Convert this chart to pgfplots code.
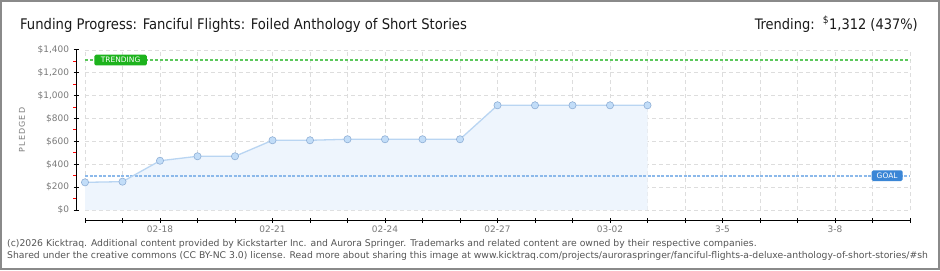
\documentclass[border=0pt]{standalone}
\usepackage{pgfplots}
\usepackage{pgfplotstable}
\pgfplotsset{compat=1.18}
\usepackage{fontspec}
\setmainfont{DejaVu Sans Condensed}
\newfontfamily\smallfont{DejaVu Sans}
\newfontfamily\spacedfont{DejaVu Sans}[LetterSpace=14]
\definecolor{gridc}{HTML}{DDDDDD}
\definecolor{linec}{HTML}{B9D5F2}
\definecolor{fillc}{HTML}{EEF5FD}
\definecolor{markfill}{HTML}{C2DDF8}
\definecolor{markdraw}{HTML}{8FAFD6}
\definecolor{trendc}{HTML}{5CC85C}
\definecolor{trendbox}{HTML}{1DB31D}
\definecolor{goalc}{HTML}{8CB9EA}
\definecolor{goalbox}{HTML}{3A86D6}
\definecolor{labc}{HTML}{7A7A7A}
\definecolor{footc}{HTML}{555555}
\definecolor{titc}{HTML}{1A1A1A}
\definecolor{framec}{HTML}{8A8A8A}

\pgfplotstableread{
day pledged
0 242
1 248
2 431
3 470
4 470
5 610
6 610
7 619
8 619
9 619
10 619
11 916
12 916
13 916
14 916
15 916
}\pledged

\begin{document}
\begin{tikzpicture}[x=1bp,y=1bp]
\path[use as bounding box] (0,0) rectangle (940,270);
\fill[white] (0,0) rectangle (940,270);
\node[anchor=base west, font=\fontsize{14.7}{15}\selectfont, text=titc, inner sep=0] at (20,241)
  {Funding Progress: Fanciful Flights: Foiled Anthology of Short Stories};
\node[anchor=base east, font=\fontsize{14.5}{15}\selectfont, text=titc, inner sep=0] at (918,241)
  {Trending:\ \ \textsuperscript{\$}1,312 (437\%)};
\begin{scope}
\clip (0,0) rectangle (938,270);
\node[anchor=base west, font=\smallfont\fontsize{9.3}{10}\selectfont, text=footc, inner sep=0] at (7,23.5)
  {(c)2026 Kicktraq. Additional content provided by Kickstarter Inc. and Aurora Springer. Trademarks and related content are owned by their respective companies.};
\node[anchor=base west, font=\smallfont\fontsize{9.3}{10}\selectfont, text=footc, inner sep=0] at (7,11.5)
  {Shared under the creative commons (CC BY-NC 3.0) license. Read more about sharing this image at www.kicktraq.com/projects/auroraspringer/fanciful-flights-a-deluxe-anthology-of-short-stories/\#sh};
\end{scope}
\node[rotate=90, font=\spacedfont\fontsize{8}{9}\selectfont, text=labc, inner sep=0] at (22,140) {PLEDGED};
\begin{axis}[
  at={(76bp,50bp)}, anchor=south west,
  scale only axis, width=834bp, height=170bp,
  xmin=-0.24, xmax=22, ymin=-87.5, ymax=1400,
  axis line style={draw=none},
  clip=false,
  /pgf/number format/assume math mode=true,
  xtick={0,...,22},
  xticklabels={,,02-18,,,02-21,,,02-24,,,02-27,,,03-02,,,3-5,,,3-8,,},
  ytick={0,200,...,1400},
  yticklabels={\$0,\$200,\$400,\$600,\$800,{\$1,000},{\$1,200},{\$1,400}},
  minor ytick={100,300,...,1300},
  xtick pos=bottom, ytick pos=left,
  tick align=center,
  major tick length=5bp, minor tick length=3bp,
  every tick/.style={black, line width=1bp},
  minor y tick style={red, line width=1bp, xshift=-1.5bp},
  tick label style={font=\smallfont\fontsize{9}{9}\selectfont, text=labc},
  y tick label style={xshift=-1bp},
]
\pgfplotsinvokeforeach{0,...,22}{
  \draw[gridc, line width=0.8bp, dash pattern=on 4bp off 3bp] (axis cs:#1,0) -- (axis cs:#1,1400);
}
\pgfplotsinvokeforeach{0,200,...,1400}{
  \draw[gridc, line width=0.8bp, dash pattern=on 4bp off 3bp] (axis cs:0,#1) -- (axis cs:22,#1);
}
\draw[black, line width=1bp] (axis cs:-0.24,0) -- (axis cs:-0.24,1400);
\draw[black, line width=1bp] (axis cs:0,-87.5) -- (axis cs:22,-87.5);
\addplot[fill=fillc, draw=none, forget plot] table[x=day, y=pledged] {\pledged} \closedcycle;
\addplot[goalc, line width=2.2bp, dash pattern=on 3bp off 1.5bp] coordinates {(0,300) (22,300)};
\addplot[trendc, line width=2bp, dash pattern=on 3bp off 2bp] coordinates {(0,1312) (22,1312)};
\addplot[linec, line width=1.3bp, mark=*, mark size=3.6bp,
  mark options={fill=markfill, draw=markdraw, line width=0.6bp}] table[x=day, y=pledged] {\pledged};
\node[fill=trendbox, text=white, rounded corners=1.5bp, inner xsep=6.5bp, inner ysep=2.6bp,
  font=\smallfont\fontsize{7.5}{8}\selectfont] at (axis cs:0.95,1312) {TRENDING};
\node[fill=goalbox, text=white, rounded corners=1.5bp, inner xsep=5bp, inner ysep=2.6bp,
  font=\smallfont\fontsize{7.5}{8}\selectfont] at (axis cs:21.39,300) {GOAL};
\end{axis}
\draw[framec, line width=2bp] (1,1) rectangle (939,269);
\end{tikzpicture}
\end{document}
